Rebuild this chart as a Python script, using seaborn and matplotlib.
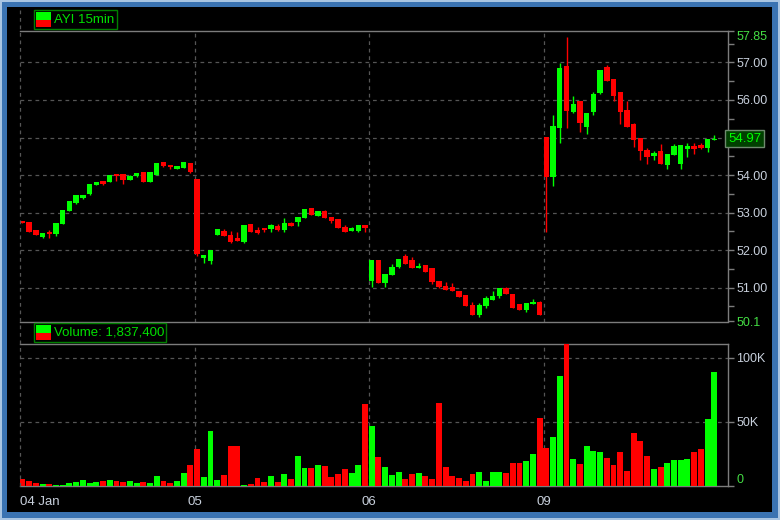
import numpy as np
import pandas as pd
import seaborn as sns
import matplotlib.pyplot as plt
import matplotlib.transforms as mtransforms
from matplotlib.patches import Rectangle
from matplotlib.lines import Line2D

# 15 minute bars, 4 sessions x 26 bars
day_labels = ['04 Jan', '05', '06', '09']
day_start = [0, 26, 52, 78]

opens = [52.78, 52.75, 52.54, 52.36, 52.48, 52.44, 52.70, 53.04, 53.26, 53.40, 53.50, 53.74, 53.84,
         53.82, 54.03, 54.03, 53.88, 53.98, 54.08, 53.82, 54.01, 54.35, 54.27, 54.17, 54.19, 54.32,
         53.89, 51.80, 51.72, 52.40, 52.51, 52.40, 52.33, 52.22, 52.70, 52.54, 52.59, 52.57, 52.64,
         52.54, 52.72, 52.76, 52.86, 53.12, 52.92, 53.03, 52.88, 52.83, 52.62, 52.52, 52.52, 52.67,
         51.19, 51.74, 51.13, 51.35, 51.55, 51.84, 51.74, 51.53, 51.61, 51.53, 51.18, 51.05, 51.02,
         50.90, 50.80, 50.54, 50.26, 50.52, 50.67, 50.78, 50.99, 50.83, 50.57, 50.41, 50.57, 50.62,
         55.01, 53.95, 55.26, 56.90, 55.69, 55.97, 55.29, 55.69, 56.19, 56.87, 56.56, 56.21, 55.73,
         55.36, 54.99, 54.66, 54.51, 54.64, 54.27, 54.54, 54.30, 54.70, 54.77, 54.80, 54.73, 54.93]
closes = [52.71, 52.49, 52.41, 52.46, 52.43, 52.72, 53.07, 53.31, 53.47, 53.47, 53.76, 53.81, 53.77,
          54.00, 53.98, 53.88, 53.97, 54.05, 53.82, 54.08, 54.32, 54.25, 54.22, 54.24, 54.35, 54.09,
          51.89, 51.87, 52.00, 52.56, 52.39, 52.22, 52.24, 52.67, 52.49, 52.46, 52.54, 52.67, 52.54,
          52.72, 52.65, 52.88, 53.10, 52.94, 53.04, 52.86, 52.78, 52.59, 52.49, 52.59, 52.67, 52.60,
          51.74, 51.13, 51.37, 51.55, 51.76, 51.64, 51.53, 51.58, 51.43, 51.16, 51.03, 50.95, 50.90,
          50.76, 50.52, 50.26, 50.54, 50.73, 50.78, 50.99, 50.82, 50.47, 50.41, 50.59, 50.62, 50.28,
          53.95, 55.30, 56.85, 55.71, 55.89, 55.39, 55.65, 56.16, 56.79, 56.51, 56.11, 55.69, 55.29,
          54.94, 54.65, 54.49, 54.58, 54.30, 54.56, 54.77, 54.80, 54.77, 54.70, 54.73, 54.96, 54.97]
highs = [52.78, 52.75, 52.54, 52.46, 52.54, 52.72, 53.07, 53.31, 53.47, 53.47, 53.76, 53.81, 53.84,
         54.00, 54.03, 54.03, 54.00, 54.05, 54.08, 54.08, 54.32, 54.35, 54.27, 54.24, 54.35, 54.32,
         53.89, 51.87, 52.00, 52.56, 52.56, 52.51, 52.48, 52.67, 52.70, 52.61, 52.59, 52.70, 52.70,
         52.86, 52.75, 52.88, 53.10, 53.12, 53.04, 53.07, 52.88, 52.83, 52.67, 52.62, 52.67, 52.67,
         51.74, 51.74, 51.37, 51.63, 51.76, 51.90, 51.82, 51.66, 51.61, 51.53, 51.18, 51.15, 51.13,
         50.90, 50.80, 50.62, 50.59, 50.78, 50.91, 50.99, 51.02, 50.83, 50.57, 50.59, 50.70, 50.65,
         55.01, 55.60, 56.98, 57.67, 56.10, 55.97, 55.65, 56.21, 56.79, 56.93, 56.56, 56.21, 55.97,
         55.38, 54.99, 54.72, 54.64, 54.83, 54.56, 54.83, 54.80, 54.85, 54.85, 54.85, 54.96, 55.06]
lows = [52.71, 52.49, 52.41, 52.33, 52.33, 52.38, 52.70, 53.04, 53.24, 53.37, 53.48, 53.74, 53.74,
        53.82, 53.84, 53.77, 53.88, 53.95, 53.82, 53.82, 54.01, 54.22, 54.17, 54.17, 54.19, 54.06,
        51.85, 51.67, 51.64, 52.40, 52.39, 52.19, 52.24, 52.19, 52.49, 52.44, 52.48, 52.48, 52.51,
        52.48, 52.64, 52.64, 52.86, 52.94, 52.92, 52.86, 52.73, 52.59, 52.49, 52.52, 52.48, 52.48,
        51.02, 51.13, 51.02, 51.35, 51.52, 51.64, 51.53, 51.53, 51.43, 51.10, 51.00, 50.95, 50.90,
        50.74, 50.52, 50.26, 50.22, 50.46, 50.67, 50.73, 50.82, 50.47, 50.41, 50.35, 50.57, 50.28,
        52.48, 53.71, 54.85, 55.26, 55.65, 55.15, 55.09, 55.60, 56.16, 56.51, 55.97, 55.37, 55.29,
        54.74, 54.41, 54.30, 54.41, 54.30, 54.17, 54.54, 54.17, 54.49, 54.57, 54.70, 54.61, 54.93]
volumes = [5500, 3900, 2300, 1600, 1600, 800, 800, 2300, 3100, 4700, 2300, 3100, 3900,
           4700, 3900, 3100, 3900, 2300, 3100, 2300, 7800, 3900, 2300, 3900, 10200, 16400,
           28900, 7000, 43000, 4700, 8600, 31300, 31300, 800, 1600, 6300, 3100, 7800, 3100,
           9400, 5500, 23400, 14100, 14100, 16400, 15600, 7000, 9400, 13300, 10200, 16400, 64000,
           47000, 22700, 14800, 8600, 10900, 5500, 9400, 10200, 7800, 5500, 64800, 14800, 7800,
           6300, 3900, 9400, 10900, 3900, 10900, 10900, 10200, 18000, 18000, 19500, 25000, 53000,
           29700, 38300, 86000, 120000, 21000, 17200, 31300, 27300, 26600, 21900, 16400, 26600, 11700,
           41400, 35200, 23400, 13300, 14800, 18000, 20300, 20300, 21000, 26600, 28900, 52300, 89000]

price_ticks = [50.1, 51, 52, 53, 54, 55, 56, 57, 57.85]
vol_ticks = [0, 50000, 100000]
vol_labels = ['0', '50K', '100K']
title_text = 'AYI 15min'
vol_text = 'Volume: 1,837,400'

GREEN = '#00ff00'
RED = '#ff0000'
LBL = '#c8d0dc'
LBL_G = '#44dd44'
SPINE = '#7c7c7c'
GRID = '#555555'

sns.set_style('dark', rc={'axes.facecolor': 'black', 'figure.facecolor': '#a9c5e2'})
plt.rcParams['font.family'] = ['Liberation Sans', 'DejaVu Sans']

W, H = 780, 520
fig = plt.figure(figsize=(W / 100, H / 100), dpi=100)


def fx(x):
    return x / W


def fy(y):
    return 1 - y / H


def rect_px(x0, y0, x1, y1, **kw):
    r = Rectangle((fx(x0), fy(y1)), (x1 - x0) / W, (y1 - y0) / H,
                  transform=fig.transFigure, **kw)
    fig.add_artist(r)
    return r


# window frame
rect_px(2, 2, 778, 518, facecolor='#3a73b2', edgecolor='none', zorder=-10)
rect_px(7, 7, 772, 512, facecolor='black', edgecolor='none', zorder=-9)

ax_p = fig.add_axes([fx(20), fy(321.5), 708 / W, 291 / H])
ax_v = fig.add_axes([fx(20), fy(486), 708 / W, 142 / H])

n = len(opens)
x = np.arange(n)
o = np.array(opens)
c = np.array(closes)
up = c >= o
colors = np.where(up, GREEN, RED)

# candles
ax_p.vlines(x, lows, highs, colors=colors, lw=1, zorder=3)
body = np.maximum(np.abs(c - o), 0.025)
ax_p.bar(x, body, bottom=np.minimum(o, c), width=0.8, color=colors, linewidth=0, zorder=4)

# volume
df = pd.DataFrame({'idx': x, 'volume': volumes, 'dir': np.where(up, 'up', 'down')})
sns.barplot(data=df, x='idx', y='volume', hue='dir', palette={'up': GREEN, 'down': RED},
            dodge=False, native_scale=True, width=0.88, saturation=1, errorbar=None,
            legend=False, linewidth=0, ax=ax_v, zorder=3)

xlim = (-0.36, 105.04)
grid_x = [d - 0.35 for d in day_start]
for ax in (ax_p, ax_v):
    ax.set_facecolor('black')
    ax.set_xlim(*xlim)
    ax.set_xlabel('')
    ax.set_ylabel('')
    for side in ('top', 'right', 'bottom'):
        ax.spines[side].set_visible(True)
        ax.spines[side].set_color(SPINE)
        ax.spines[side].set_linewidth(1)
    ax.spines['left'].set_visible(False)
    ax.grid(False)
    for gx in grid_x[1:]:
        ax.axvline(gx, color=GRID, lw=0.9, ls=(0, (3, 3)), zorder=1)
    ax.yaxis.tick_right()
    ax.tick_params(axis='both', which='both', direction='out', length=4, width=1,
                   color=SPINE, labelcolor=LBL, labelsize=9, pad=2)

# price axis
ax_p.set_ylim(price_ticks[0], price_ticks[-1])
ax_p.set_yticks(price_ticks)
# the 55.00 label sits under the last-price marker
ax_p.set_yticklabels(['50.1'] + ['' if t == 55 else '%.2f' % t for t in price_ticks[1:]])
ax_p.set_yticks(np.arange(50.5, 57.6, 1.0), minor=True)
for t in price_ticks[1:-1]:
    ax_p.axhline(t, color=GRID, lw=0.9, ls=(0, (3, 3)), zorder=1)
labs = ax_p.get_yticklabels()
labs[0].set_color(LBL_G)
labs[-1].set_color(LBL_G)
labs[-1].set_va('top')
ax_p.set_xticks([])

# last price marker
trans = mtransforms.blended_transform_factory(ax_p.transAxes, ax_p.transData)
ax_p.text(1.0, closes[-1], '%.2f' % closes[-1], transform=trans, ha='left', va='center',
          color=GREEN, fontsize=9.5, clip_on=False, zorder=10,
          bbox=dict(boxstyle='square,pad=0.2', facecolor='#004000', edgecolor='#6e8a6e', lw=1))

# volume axis
ax_v.set_ylim(0, 110900)
ax_v.set_yticks(vol_ticks)
ax_v.set_yticklabels(vol_labels)
for t in vol_ticks[1:]:
    ax_v.axhline(t, color=GRID, lw=0.9, ls=(0, (3, 3)), zorder=1)
vl = ax_v.get_yticklabels()
vl[0].set_color(LBL_G)
vl[0].set_va('bottom')
ax_v.set_xticks(grid_x)
ax_v.set_xticklabels(day_labels)
ax_v.tick_params(axis='x', labelsize=9.5, pad=3)
ax_v.get_xticklabels()[0].set_ha('left')

# left border dashed line running the full height
fig.add_artist(Line2D([fx(20.3), fx(20.3)], [fy(10), fy(490)], color=GRID, lw=0.9,
                      ls=(0, (3, 3)), transform=fig.transFigure))

# legend boxes
rect_px(33.5, 10, 116.5, 29, facecolor='black', edgecolor='#008000', lw=1, zorder=5)
rect_px(35.5, 12, 51, 19.5, facecolor=GREEN, edgecolor='none', zorder=6)
rect_px(35.5, 19.5, 51, 27, facecolor=RED, edgecolor='none', zorder=6)
fig.text(fx(54), fy(19.8), title_text, color='#00e000', fontsize=9.5, va='center', ha='left',
         zorder=8)

rect_px(33.5, 323, 165.5, 342, facecolor='black', edgecolor='#008000', lw=1, zorder=5)
rect_px(35.5, 325, 51, 332.5, facecolor=GREEN, edgecolor='none', zorder=6)
rect_px(35.5, 332.5, 51, 340, facecolor=RED, edgecolor='none', zorder=6)
fig.text(fx(54), fy(332.8), vol_text, color='#00e000', fontsize=9.5, va='center', ha='left',
         zorder=8)

fig.savefig('out.png', dpi=100, facecolor=fig.get_facecolor())
